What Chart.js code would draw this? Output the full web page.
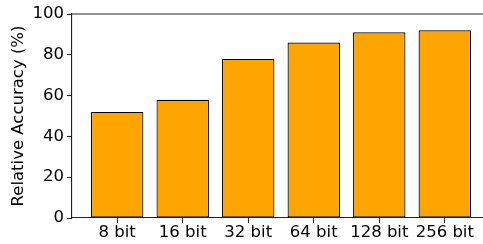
<!DOCTYPE html>
<html>
<head>
<meta charset="utf-8">
<script src="https://cdn.jsdelivr.net/npm/chart.js@4/dist/chart.umd.min.js"></script>
<style>
  html, body { margin: 0; padding: 0; overflow: hidden; background: #fff; }
  canvas { display: block; }
</style>
</head>
<body>
<canvas id="chart" width="492" height="244"></canvas>
<script>
var categories = ['8 bit', '16 bit', '32 bit', '64 bit', '128 bit', '256 bit'];
var accuracy = [52, 58, 78, 86, 91, 92];
var yTicks = [0, 20, 40, 60, 80, 100];

var FONT = { family: 'DejaVu Sans', size: 16.5 };

// top spine, like the matplotlib frame
var framePlugin = {
    id: 'frame',
    afterDraw: function (chart) {
        var a = chart.chartArea, ctx = chart.ctx;
        ctx.save();
        ctx.strokeStyle = '#222';
        ctx.lineWidth = 1.1;
        ctx.beginPath();
        ctx.moveTo(a.left, a.top);
        ctx.lineTo(a.right, a.top);
        ctx.lineTo(a.right, a.bottom);
        ctx.stroke();
        ctx.restore();
    }
};

new Chart(document.getElementById('chart'), {
    type: 'bar',
    data: {
        datasets: [{
            data: accuracy.map(function (v, i) { return { x: i, y: v }; }),
            backgroundColor: '#FFA500',
            borderColor: '#000',
            borderWidth: 1.2,
            borderSkipped: false,
            barPercentage: 0.8,
            categoryPercentage: 1.0
        }]
    },
    options: {
        responsive: false,
        animation: false,
        devicePixelRatio: 1,
        layout: { padding: { top: 14, right: 2, left: 0, bottom: 0 } },
        plugins: { legend: { display: false }, tooltip: { enabled: false } },
        scales: {
            x: {
                type: 'linear',
                offset: false,
                min: -0.69,
                max: 5.69,
                afterBuildTicks: function (s) {
                    s.ticks = categories.map(function (_, i) { return { value: i }; });
                },
                afterFit: function (s) { s.height = 26; },
                ticks: {
                    callback: function (v) { return categories[v]; },
                    color: '#000',
                    padding: 0,
                    maxRotation: 0,
                    autoSkip: false,
                    font: FONT
                },
                grid: { offset: false, drawOnChartArea: false, drawTicks: true, tickLength: 5, tickColor: '#222', tickWidth: 1.1 },
                border: { color: '#222', width: 1.1 }
            },
            y: {
                min: 0,
                max: 100,
                afterBuildTicks: function (s) {
                    s.ticks = yTicks.map(function (v) { return { value: v }; });
                },
                afterFit: function (s) { s.width = 72; },
                title: {
                    display: true,
                    text: 'Relative Accuracy (%)',
                    color: '#000',
                    padding: { top: 9, bottom: 0 },
                    font: FONT
                },
                ticks: {
                    color: '#000',
                    padding: 3,
                    font: FONT
                },
                grid: { drawOnChartArea: false, drawTicks: true, tickLength: 5, tickColor: '#222', tickWidth: 1.1 },
                border: { color: '#222', width: 1.1 }
            }
        }
    },
    plugins: [framePlugin]
});
</script>
</body>
</html>
